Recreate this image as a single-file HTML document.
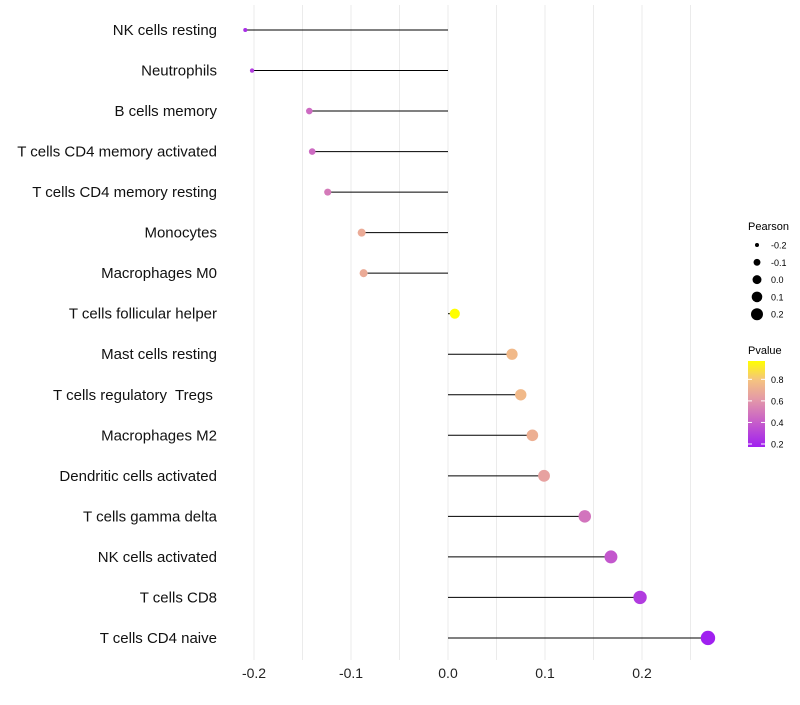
<!DOCTYPE html>
<html><head><meta charset="utf-8"><style>
body{margin:0;background:#fff;font-family:"Liberation Sans",sans-serif}
text{white-space:pre}
</style></head><body>
<svg id="chart" width="800" height="700" xmlns="http://www.w3.org/2000/svg">
<defs><linearGradient id="pg" x1="0" y1="1" x2="0" y2="0">
<stop offset="0" stop-color="#a020f0"/><stop offset="0.3" stop-color="#c860c8"/><stop offset="0.55" stop-color="#e398a8"/><stop offset="0.78" stop-color="#f5c380"/><stop offset="1" stop-color="#ffff00"/></linearGradient></defs>
<g id="grid"></g>
<g id="marks"></g>
<g id="labels"></g>
<g font-size="10" fill="#000">
<text x="748" y="230" font-size="11">Pearson</text>
<g id="sizeLegend"></g>
</g>
<g font-size="9">
<text x="748" y="354" font-size="11">Pvalue</text>
<rect x="748" y="361" width="17" height="86" fill="url(#pg)"/>
<g id="colorLegend"></g>
</g>
</svg>
<script>
const categories=["NK cells resting","Neutrophils","B cells memory","T cells CD4 memory activated","T cells CD4 memory resting","Monocytes","Macrophages M0","T cells follicular helper","Mast cells resting","T cells regulatory  Tregs ","Macrophages M2","Dendritic cells activated","T cells gamma delta","NK cells activated","T cells CD8","T cells CD4 naive"];
const pearson=[-0.209,-0.202,-0.143,-0.140,-0.124,-0.089,-0.087,0.007,0.066,0.075,0.087,0.099,0.141,0.168,0.198,0.268];
const pvalue=[0.25,0.3,0.47,0.47,0.52,0.7,0.7,0.97,0.76,0.76,0.72,0.66,0.5,0.4,0.3,0.2];
const xTicks=[-0.2,-0.1,0.0,0.1,0.2];
const xTickLabels=["-0.2","-0.1","0.0","0.1","0.2"];
const sizeLegendVals=[-0.2,-0.1,0.0,0.1,0.2];
const colorLegendVals=[0.2,0.4,0.6,0.8];
const NS="http://www.w3.org/2000/svg";
const x=v=>448+v*970;
const y=i=>30+i*40.53;
const r=v=>Math.sqrt(Math.max(3,25+100*v));
const rl=v=>Math.sqrt(Math.max(2,20+80*v));
const cy=p=>444-(p-0.2)/(0.97-0.2)*83;
const stops=[[0,[160,32,240]],[0.3,[200,96,200]],[0.55,[227,152,168]],[0.78,[245,195,128]],[1,[255,255,0]]];
function col(p){let t=Math.min(1,Math.max(0,(p-0.2)/0.77));for(let k=1;k<stops.length;k++){if(t<=stops[k][0]){const[a,ca]=stops[k-1],[b,cb]=stops[k];const f=(t-a)/(b-a);return"rgb("+ca.map((c,j)=>Math.round(c+(cb[j]-c)*f)).join(",")+")";}}return"rgb(255,255,0)";}
function mk(tag,at,parent,txt){const e=document.createElementNS(NS,tag);for(const k in at)e.setAttribute(k,at[k]);if(txt!==undefined)e.textContent=txt;document.getElementById(parent).appendChild(e);return e;}
for(let v=-0.2;v<=0.251;v+=0.05){const g=mk("line",{x1:x(v),x2:x(v),y1:5,y2:660,stroke:"#ebebeb","stroke-width":1},"grid");

}
xTicks.forEach((t,i)=>{const e=mk("text",{x:x(t),y:678,"font-size":14,"text-anchor":"middle",fill:"#222"},"labels",xTickLabels[i]);

});
categories.forEach((c,i)=>{
const l=mk("text",{x:217,y:y(i)+5,"font-size":15,"text-anchor":"end",fill:"#111"},"labels",c);


const s=mk("line",{x1:x(0),x2:x(pearson[i]),y1:y(i),y2:y(i),stroke:"#000","stroke-width":1},"marks");


const d=mk("circle",{cx:x(pearson[i]),cy:y(i),r:r(pearson[i]),fill:col(pvalue[i])},"marks");

});
sizeLegendVals.forEach((v,i)=>{const yy=245+i*17.3;
const d=mk("circle",{cx:757,cy:yy,r:rl(v),fill:"#000"},"sizeLegend");


const t=mk("text",{x:771,y:yy+3.5,"font-size":9},"sizeLegend",v.toFixed(1));

});
colorLegendVals.forEach(v=>{const yy=cy(v);
const k=mk("line",{x1:748,x2:752,y1:yy,y2:yy,stroke:"#fff","stroke-width":1},"colorLegend");


const k2=mk("line",{x1:761,x2:765,y1:yy,y2:yy,stroke:"#fff","stroke-width":1},"colorLegend");


const t=mk("text",{x:771,y:yy+3.5,"font-size":9},"colorLegend",v.toFixed(1));

});
</script>
</body></html>
